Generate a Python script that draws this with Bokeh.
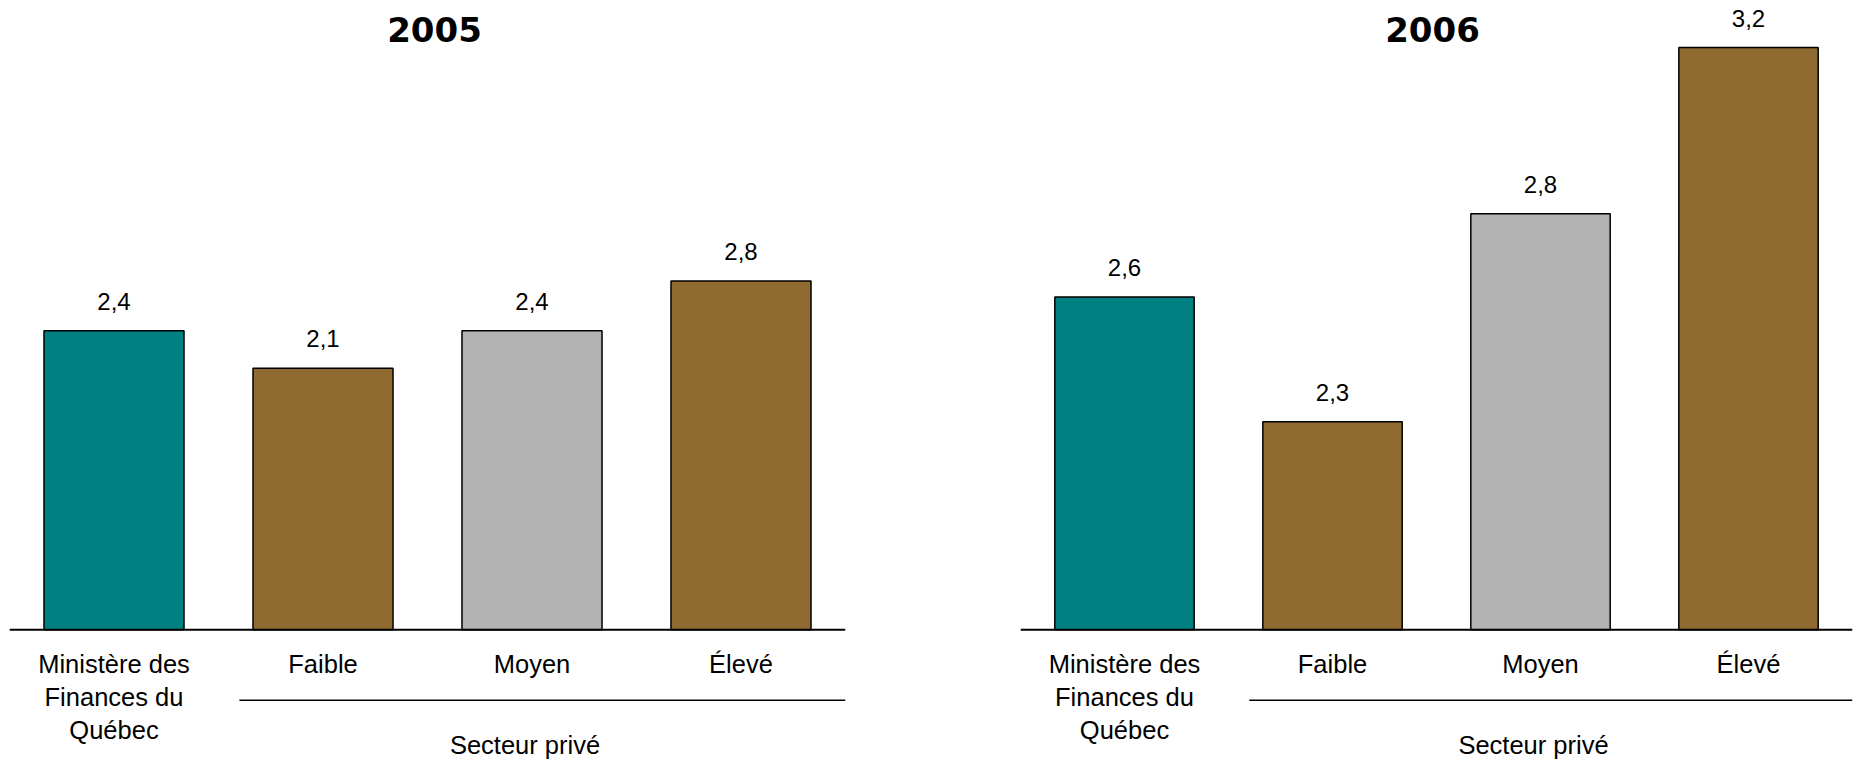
from bokeh.plotting import figure
from bokeh.layouts import row
from bokeh.models import ColumnDataSource, Span
from bokeh.core.properties import value
from bokeh.embed import file_html
from bokeh.resources import INLINE

# --- data -------------------------------------------------------------
categories = ["Ministère des\nFinances du\nQuébec", "Faible", "Moyen", "Élevé"]
group_label = "Secteur privé"
years = ["2005", "2006"]
values_2005 = [2.4, 2.1, 2.4, 2.8]
values_2006 = [2.6, 2.3, 2.8, 3.2]
axis_base = [0.0, 1.8]          # value at which each panel's bars start

# --- style ------------------------------------------------------------
bar_colors = ["#008080", "#8F6B32", "#B2B2B2", "#8F6B32"]
FONT = "Liberation Sans"
TITLE_FONT = "DejaVu Sans"
H = 763
FRAME_W = [836, 832]
BASE_Y = 629.3                   # screen y of the category axis line
PX_PER_UNIT = [124.6, 416.0]     # vertical scale of each panel
BORDERS = [(9, 87), (88, 8)]
TITLE_DX = [7, -4]
LIFT = 0.42                      # baseline correction, in em, for text glyphs

VALUE_SIZE = 24
CAT_SIZE = 25.5
TITLE_SIZE = 34


def fmt(v):
    return f"{v:.1f}".replace(".", ",")


def panel(year, vals, base, ppu, frame_w, borders, title_dx):
    n = len(categories)
    xs = list(range(n))
    lo = base - (H - BASE_Y) / ppu
    hi = base + BASE_Y / ppu

    def below(px, size=0):
        return base - (px - LIFT * size) / ppu

    p = figure(width=borders[0] + frame_w + borders[1], height=H,
               x_range=(-0.5, n - 0.5), y_range=(lo, hi),
               output_backend="svg", toolbar_location=None,
               x_axis_location=None, y_axis_location=None,
               min_border_left=borders[0], min_border_right=borders[1],
               min_border_top=0, min_border_bottom=0)
    p.outline_line_color = None
    p.grid.visible = False
    p.background_fill_color = "white"
    p.border_fill_color = "white"

    src = ColumnDataSource(dict(
        x=xs, top=vals, color=bar_colors,
        label=[fmt(v) for v in vals],
        label_y=[v + (19.3 + LIFT * VALUE_SIZE) / ppu for v in vals],
    ))
    p.vbar(x="x", top="top", bottom=base, width=0.67, source=src,
           fill_color="color", line_color="black", line_width=1.5)
    p.text(x="x", y="label_y", text="label", source=src,
           text_align="center", text_baseline="alphabetic",
           text_font=value(FONT), text_font_size=f"{VALUE_SIZE}px",
           text_color="black")

    p.add_layout(Span(location=base, dimension="width",
                      line_color="black", line_width=2))

    # category names, one row per text line
    cx, cy, ct = [], [], []
    for i, name in enumerate(categories):
        for k, line in enumerate(name.split("\n")):
            cx.append(xs[i])
            cy.append(below(45.0 + 33.2 * k, CAT_SIZE))
            ct.append(line)
    p.text(x=cx, y=cy, text=ct, text_align="center", text_baseline="alphabetic",
           text_font=value(FONT), text_font_size=f"{CAT_SIZE}px", text_color="black")

    # private-sector grouping bracket
    p.segment(x0=[0.6], x1=[n - 0.5], y0=[below(70.5)], y1=[below(70.5)],
              line_color="black", line_width=1.5)
    p.text(x=[2], y=[below(126.0, CAT_SIZE)], text=[group_label], x_offset=-7,
           text_align="center", text_baseline="alphabetic",
           text_font=value(FONT), text_font_size=f"{CAT_SIZE}px", text_color="black")

    # panel title
    p.text(x=[(n - 1) / 2], y=[base + (BASE_Y - 43.0 + LIFT * TITLE_SIZE) / ppu],
           text=[year], x_offset=title_dx,
           text_align="center", text_baseline="alphabetic",
           text_font=value(TITLE_FONT), text_font_style="bold",
           text_font_size=f"{TITLE_SIZE}px", text_color="black")
    return p


p1 = panel(years[0], values_2005, axis_base[0], PX_PER_UNIT[0],
           FRAME_W[0], BORDERS[0], TITLE_DX[0])
p2 = panel(years[1], values_2006, axis_base[1], PX_PER_UNIT[1],
           FRAME_W[1], BORDERS[1], TITLE_DX[1])
layout = row(p1, p2)

open("out.html", "w").write(file_html(layout, INLINE))
